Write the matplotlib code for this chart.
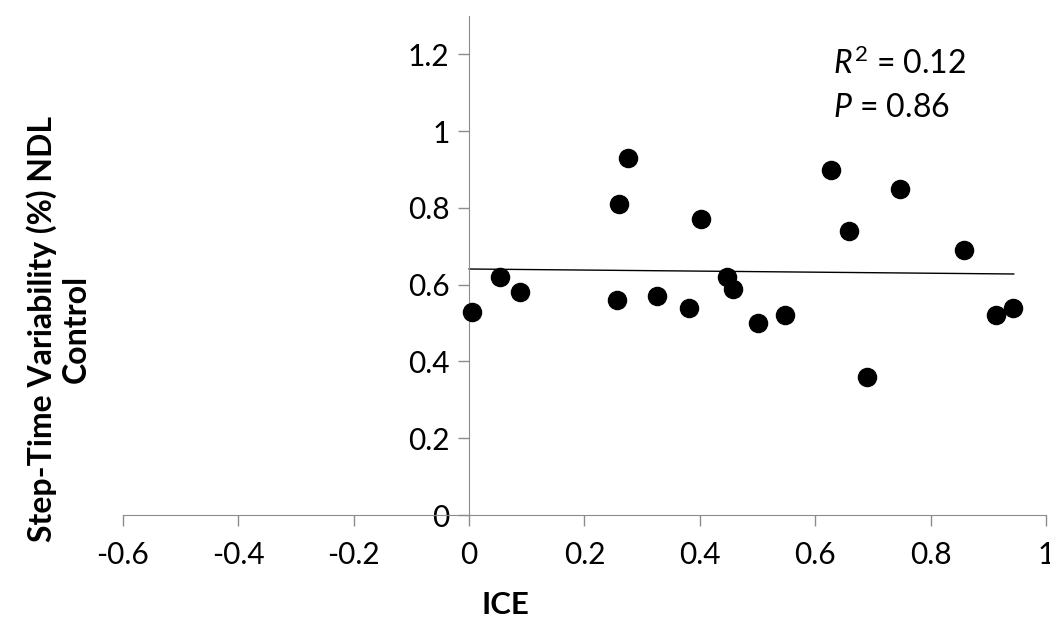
import matplotlib.pyplot as plt
import numpy as np

plt.rcParams['font.family'] = ['Lato', 'DejaVu Sans']
plt.rcParams['mathtext.fontset'] = 'custom'
plt.rcParams['mathtext.rm'] = 'Lato'
plt.rcParams['mathtext.it'] = 'Lato:italic'

# ICE vs step-time variability, NDL control group
ice = [0.005, 0.054, 0.088, 0.257, 0.26, 0.276, 0.325, 0.381, 0.402, 0.447,
       0.458, 0.500, 0.548, 0.627, 0.659, 0.689, 0.747, 0.858, 0.913, 0.943]
variability = [0.53, 0.62, 0.58, 0.56, 0.81, 0.93, 0.57, 0.54, 0.77, 0.62,
               0.59, 0.50, 0.52, 0.90, 0.74, 0.36, 0.85, 0.69, 0.52, 0.54]

# linear trend line
trend_x = [0.0, 0.944]
trend_y = [0.641, 0.628]

x_ticks = [-0.6, -0.4, -0.2, 0, 0.2, 0.4, 0.6, 0.8, 1]
y_ticks = [0, 0.2, 0.4, 0.6, 0.8, 1, 1.2]

fig = plt.figure(figsize=(10.5, 6.19), dpi=100)
ax = fig.add_axes([0.1171, 0.168, 0.8791, 0.806])

ax.scatter(ice, variability, s=170, color='black', zorder=3)
ax.plot(trend_x, trend_y, color='black', lw=1.0)

ax.set_xlim(-0.6, 1)
ax.set_ylim(0, 1.3)
ax.set_xticks(x_ticks)
ax.set_xticklabels(['-0.6', '-0.4', '-0.2', '0', '0.2', '0.4', '0.6', '0.8', '1'])
ax.set_yticks(y_ticks)
ax.set_yticklabels(['0', '0.2', '0.4', '0.6', '0.8', '1', '1.2'])

for side in ['top', 'right']:
    ax.spines[side].set_visible(False)
ax.spines['left'].set_position(('data', 0))
ax.spines['left'].set_color('#8c8c8c')
ax.spines['bottom'].set_color('#8c8c8c')
ax.tick_params(axis='both', colors='#8c8c8c', labelcolor='black', labelsize=21.5,
               length=8, width=1, direction='out')
ax.tick_params(axis='x', pad=11)
ax.tick_params(axis='y', pad=6)

ax.text(0.63, 1.175, r'$R^2$ = 0.12', fontsize=23, ha='left', va='center')
ax.text(0.63, 1.06, r'$P$ = 0.86', fontsize=23, ha='left', va='center')

fig.text(0.056, 0.468, 'Step-Time Variability (%) NDL\nControl', rotation=90,
         ha='center', va='center', multialignment='center',
         fontsize=23, fontweight='bold', linespacing=1.2)
fig.text(0.481, 0.022, 'ICE', ha='center', va='center',
         fontsize=22.5, fontweight='bold')

fig.savefig('out.png', dpi=100)
